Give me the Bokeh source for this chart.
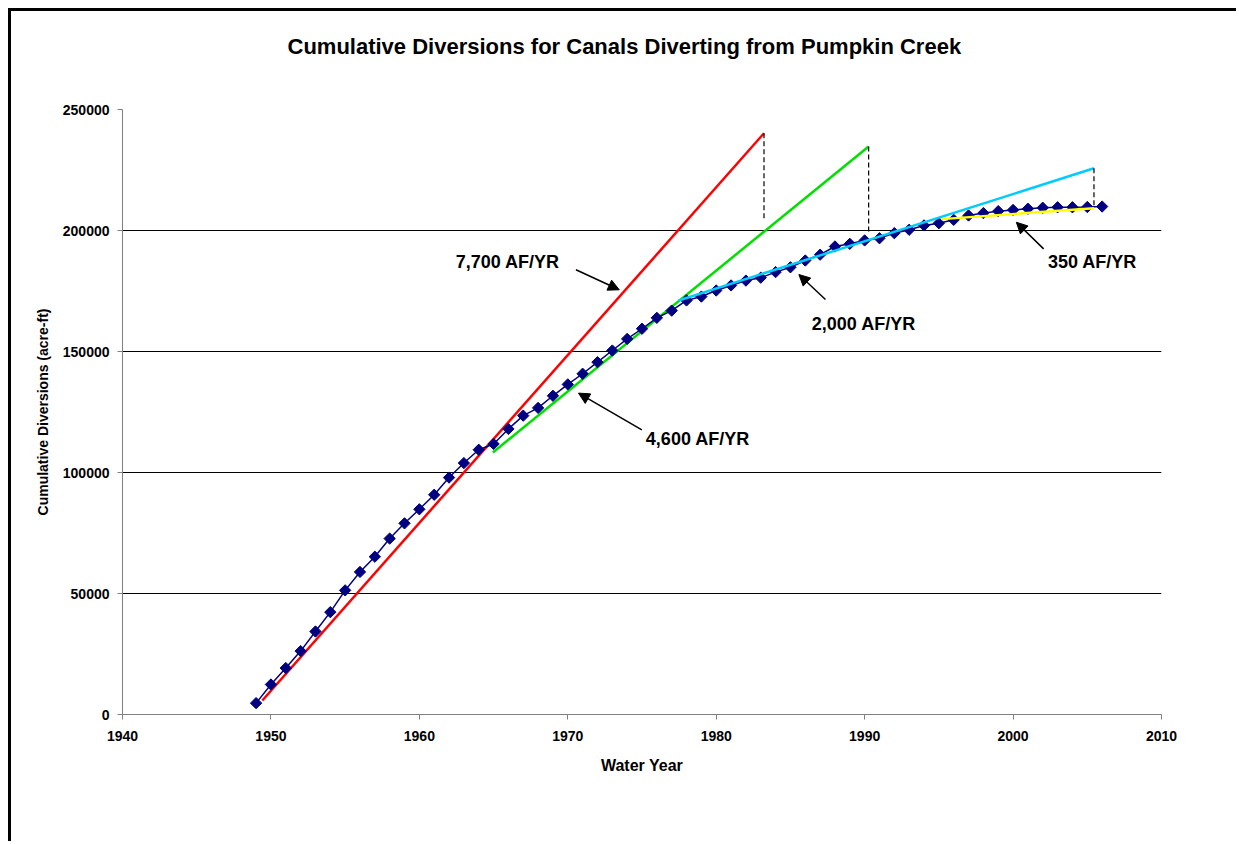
from math import pi
from bokeh.plotting import figure
from bokeh.models import (Range1d, FixedTicker, BasicTickFormatter, Arrow, NormalHead,
                          ColumnDataSource, Title)
from bokeh.core.properties import value
from bokeh.embed import file_html
from bokeh.resources import INLINE

# ---- data ----
years = list(range(1949, 2007))
cumulative = [4700, 12400, 19200, 26200, 34300, 42300, 51300, 58900, 65200, 72700,
              79000, 84800, 90800, 97900, 103900, 109400, 111800, 118000, 123500, 126700,
              131700, 136400, 140800, 145600, 150400, 155200, 159400, 163900, 166900, 171100,
              172700, 175200, 177300, 179300, 180500, 182800, 184800, 187600, 190000, 193400,
              194500, 195900, 196800, 198900, 200300, 202100, 203000, 204400, 206200, 207200,
              208000, 208500, 209000, 209400, 209600, 209600, 209700, 209900]

trend_red_x = [1949.42, 1983.22]
trend_red_y = [5800, 240200]
trend_green_x = [1964.95, 1990.27]
trend_green_y = [108300, 234700]
trend_cyan_x = [1977.46, 2005.45]
trend_cyan_y = [171100, 225700]
trend_yellow_x = [1995.18, 2005.45]
trend_yellow_y = [204700, 209200]

drop_x = [1983.22, 1990.27, 2005.45]
drop_top = [240200, 234700, 225700]
drop_bottom = [204400, 198600, 210300]

ann_text = ["7,700 AF/YR", "4,600 AF/YR", "2,000 AF/YR", "350 AF/YR"]
ann_x = [1962.45, 1975.26, 1986.44, 2002.35]
ann_y = [186900, 113900, 161400, 186900]
arrow_x0 = [1970.55, 1974.99, 1987.36, 2002.06]
arrow_y0 = [183800, 117600, 171500, 192400]
arrow_x1 = [1973.47, 1970.72, 1985.57, 2000.22]
arrow_y1 = [175500, 132800, 181800, 203400]

x_ticks = [1940, 1950, 1960, 1970, 1980, 1990, 2000, 2010]
y_ticks = [0, 50000, 100000, 150000, 200000, 250000]

TITLE = "Cumulative Diversions for Canals Diverting from Pumpkin Creek"
FONT = "Liberation Sans"

p = figure(width=1228, height=833, output_backend="svg", toolbar_location=None,
           x_range=Range1d(1940, 2010), y_range=Range1d(0, 250000),
           min_border_left=111, min_border_top=98, min_border_right=78, min_border_bottom=130,
           title=None)
p.styles = {"margin-left": "8px", "margin-top": "8px",
            "border-left": "3px solid black", "border-top": "3px solid black"}
p.outline_line_color = None
p.background_fill_color = "white"
p.border_fill_color = "white"

# spacer between the frame and the title, then the title itself
p.add_layout(Title(text=" ", text_font_size="1px", standoff=48), "above")
p.add_layout(Title(text=TITLE, align="left", offset=165, standoff=0, text_font=FONT,
                   text_font_size="22px", text_font_style="bold", text_color="black"), "above")

p.xgrid.visible = False
p.ygrid.grid_line_color = "black"
p.ygrid.grid_line_width = 1
p.ygrid.ticker = FixedTicker(ticks=y_ticks)

p.xaxis.ticker = FixedTicker(ticks=x_ticks)
p.yaxis.ticker = FixedTicker(ticks=y_ticks)
p.yaxis.formatter = BasicTickFormatter(use_scientific=False)
for ax in (p.xaxis, p.yaxis):
    ax.axis_line_color = "#808080"
    ax.axis_line_width = 1
    ax.major_tick_line_color = "#808080"
    ax.major_tick_out = 5
    ax.major_tick_in = 0
    ax.minor_tick_line_color = None
    ax.major_label_text_font = FONT
    ax.major_label_text_font_size = "14px"
    ax.major_label_text_font_style = "bold"
    ax.major_label_text_color = "black"
    ax.axis_label_text_font = FONT
    ax.axis_label_text_font_style = "bold"
    ax.axis_label_text_color = "black"
p.xaxis.axis_label = "Water Year"
p.yaxis.axis_label = "Cumulative Diversions (acre-ft)"
p.xaxis.axis_label_text_font_size = "16px"
p.yaxis.axis_label_text_font_size = "14px"
p.xaxis.major_label_standoff = 11
p.xaxis.axis_label_standoff = 13
p.yaxis.major_label_standoff = 8
p.yaxis.axis_label_standoff = 9

# trend lines
p.line(trend_red_x, trend_red_y, line_color="#FF0000", line_width=2.5)
p.line(trend_green_x, trend_green_y, line_color="#00E000", line_width=2.5)

# data
p.line(years, cumulative, line_color="#000080", line_width=1.5)
p.scatter(years, cumulative, marker="square", angle=pi / 4, size=8,
          fill_color="#000080", line_color="#000080")

p.line(trend_cyan_x, trend_cyan_y, line_color="#00CCFF", line_width=2.5)
p.line(trend_yellow_x, trend_yellow_y, line_color="#FFFF00", line_width=2.5)

p.segment(x0=drop_x, y0=drop_top, x1=drop_x, y1=drop_bottom, line_color="black",
          line_width=1.2, line_dash="5 3")

src = ColumnDataSource(dict(x=ann_x, y=ann_y, t=ann_text))
p.text(x="x", y="y", text="t", source=src, text_font=value(FONT), text_font_size="18px",
       text_font_style="bold", text_color="black", text_align="left", text_baseline="middle")

for a, b, c, d in zip(arrow_x0, arrow_y0, arrow_x1, arrow_y1):
    p.add_layout(Arrow(end=NormalHead(size=11, fill_color="black", line_color="black"),
                       x_start=a, y_start=b, x_end=c, y_end=d,
                       line_color="black", line_width=1.5))

open("out.html", "w").write(file_html(p, INLINE))
